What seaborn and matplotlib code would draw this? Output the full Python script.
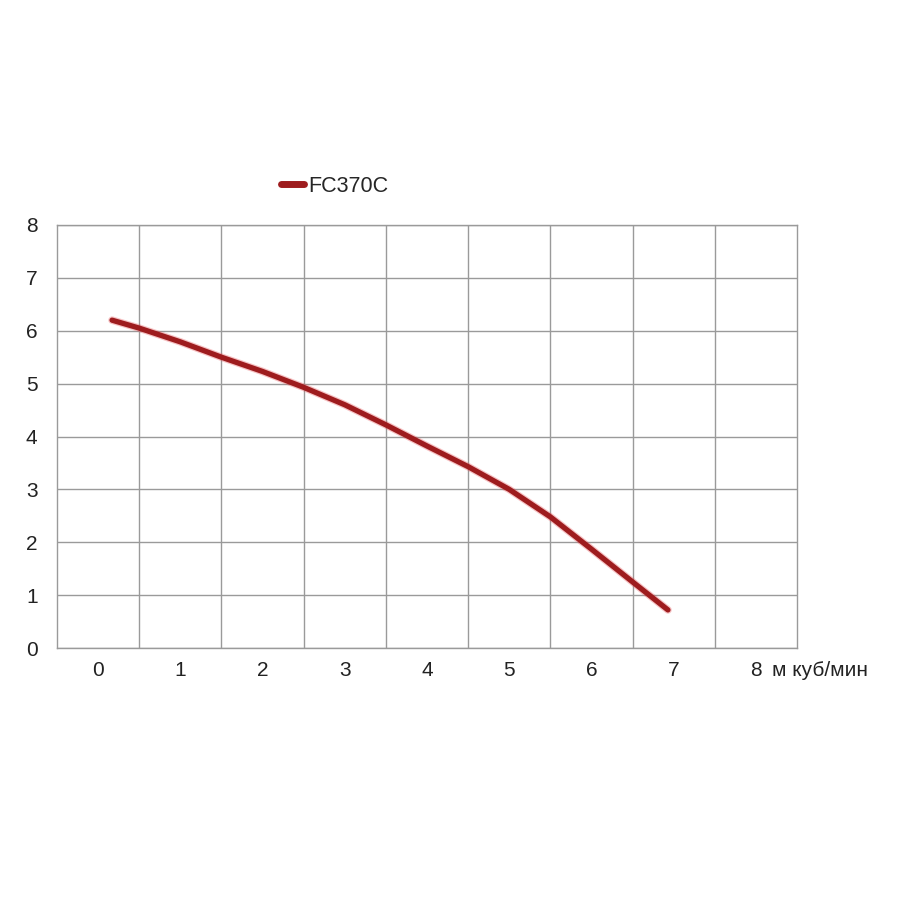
import numpy as np
import pandas as pd
import matplotlib
matplotlib.use("Agg")
import matplotlib.pyplot as plt
import seaborn as sns

sns.set_theme(style="white")
plt.rcParams["font.family"] = ["Liberation Sans", "DejaVu Sans"]

# pump curve
flow = [0.17, 0.5, 1.0, 1.5, 2.0, 2.5, 3.0, 3.5, 4.0, 4.5, 5.0, 5.5, 6.0, 6.5, 6.93]
head = [6.2, 6.05, 5.79, 5.5, 5.23, 4.93, 4.6, 4.22, 3.82, 3.43, 3.0, 2.48, 1.87, 1.25, 0.72]
series_name = "FC370C"
x_ticks = [0, 1, 2, 3, 4, 5, 6, 7, 8]
y_ticks = [0, 1, 2, 3, 4, 5, 6, 7, 8]
x_unit = "м куб/мин"

df = pd.DataFrame({"flow": flow, "head": head, "model": series_name})

fig = plt.figure(figsize=(9, 9), dpi=100)
ax = fig.add_axes([0.0633, 0.28, 0.8223, 0.47])

# soft glow under the curve
ax.plot(df["flow"], df["head"], color="#e8555a", lw=5.5, alpha=0.35,
        solid_capstyle="round", solid_joinstyle="round", zorder=2)
sns.lineplot(data=df, x="flow", y="head", hue="model", palette=["#9e1c1e"],
             lw=3.8, ax=ax, zorder=3, legend=False)
ax.lines[-1].set_solid_capstyle("round")
ax.lines[-1].set_solid_joinstyle("round")

# grid lines sit between the x labels
ax.set_xlim(-0.5, 8.5)
ax.set_ylim(0, 8)
ax.set_xticks(x_ticks)
ax.set_xticklabels([str(t) for t in x_ticks], fontsize=15)
ax.set_yticks(y_ticks)
ax.set_yticklabels([str(t) for t in y_ticks], fontsize=15)
ax.set_xticks(np.arange(0.5, 8, 1), minor=True)
ax.grid(False)
ax.grid(which="minor", axis="x", color="#9a9a9a", lw=1)
ax.grid(which="major", axis="y", color="#9a9a9a", lw=1)
ax.tick_params(axis="both", which="both", length=0, colors="#222222")
ax.tick_params(axis="x", pad=9)
ax.tick_params(axis="y", pad=14)
for s in ax.spines.values():
    s.set_visible(True)
    s.set_color("#9a9a9a")
    s.set_linewidth(1)
ax.set_xlabel("")
ax.set_ylabel("")

ax.annotate(x_unit, xy=(8.2, 0), xycoords=ax.get_xaxis_transform(),
            xytext=(0, -9), textcoords="offset points",
            ha="left", va="top", fontsize=15, color="#222222")

handle = plt.Line2D([], [], color="#9e1c1e", lw=5, solid_capstyle="round")
ax.legend([handle], [series_name], loc="center left",
          bbox_to_anchor=(0.303, 1.092), frameon=False, fontsize=15.5,
          handlelength=1.07, handletextpad=0.2, borderpad=0, borderaxespad=0)

fig.savefig("out.png", dpi=100, facecolor="white")
